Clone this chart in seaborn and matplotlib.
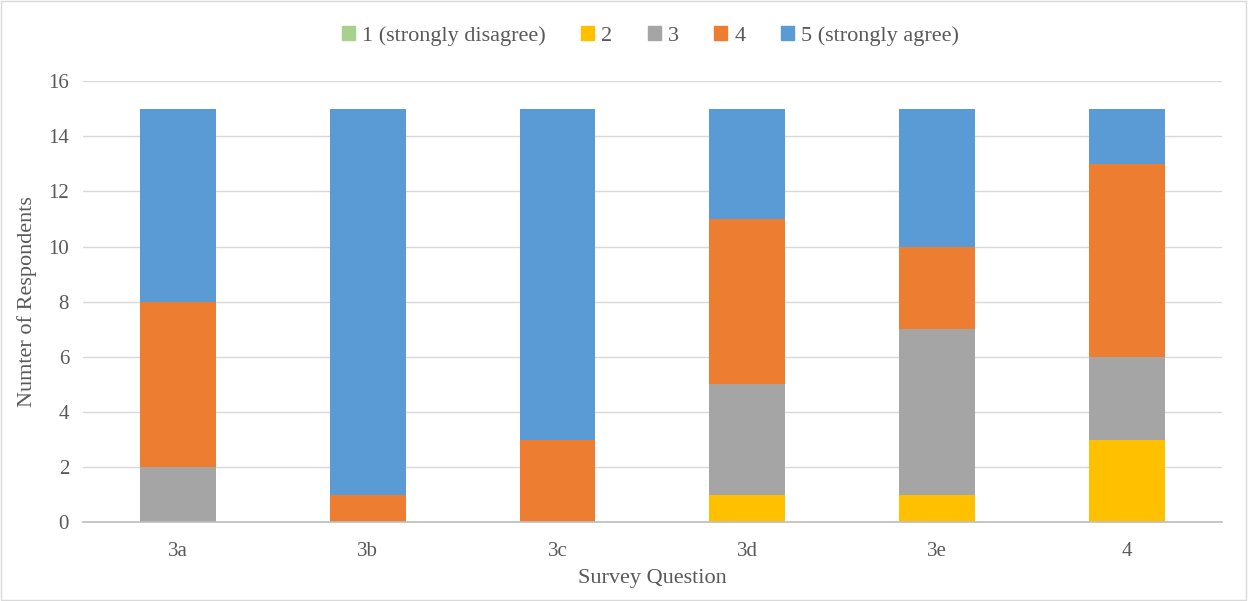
import pandas as pd
import matplotlib
matplotlib.use("Agg")
import matplotlib.pyplot as plt
import seaborn as sns
from matplotlib.patches import Patch, Rectangle

# data
questions = ["3a", "3b", "3c", "3d", "3e", "4"]
levels = ["1 (strongly disagree)", "2", "3", "4", "5 (strongly agree)"]
r1 = [0, 0, 0, 0, 0, 0]
r2 = [0, 0, 0, 1, 1, 3]
r3 = [2, 0, 0, 4, 6, 3]
r4 = [6, 1, 3, 6, 3, 7]
r5 = [7, 14, 12, 4, 5, 2]
colors = ["#A9D18E", "#FFC000", "#A5A5A5", "#ED7D31", "#5B9BD5"]

sns.set_theme(style="white")
plt.rcParams["font.family"] = ["Liberation Serif", "DejaVu Serif"]

df = pd.DataFrame({"q": questions, "1": r1, "2": r2, "3": r3, "4": r4, "5": r5})
series = ["1", "2", "3", "4", "5"]
cum = df[series].cumsum(axis=1)

fig = plt.figure(figsize=(12.48, 6.01), dpi=100)
ax = fig.add_axes([0.0665, 0.131, 0.9125, 0.734])

# draw cumulative totals from the top series down so each layer shows
for s, c in zip(reversed(series), reversed(colors)):
    sns.barplot(x=df["q"], y=cum[s], color=c, width=0.4, ax=ax,
                saturation=1, linewidth=0, order=questions)

ax.set_ylim(0, 16)
ax.set_yticks(range(0, 17, 2))
ax.yaxis.grid(True, color="#D9D9D9", linewidth=1)
ax.set_axisbelow(True)
for sp in ["top", "right", "left"]:
    ax.spines[sp].set_visible(False)
ax.spines["bottom"].set_color("#BFBFBF")
ax.tick_params(axis="y", labelsize=15, colors="#595959", length=0, pad=10)
ax.tick_params(axis="x", labelsize=15, colors="#595959", length=0, pad=14)
ax.set_xlabel("Survey Question", fontsize=16, color="#595959", labelpad=6)
ax.set_ylabel("Numter of Respondents", fontsize=16, color="#595959", labelpad=8)

handles = [Patch(color=c, label=l) for c, l in zip(colors, levels)]
fig.legend(handles=handles, loc="upper center", bbox_to_anchor=(0.521, 0.99),
           ncol=5, frameon=False, fontsize=16, handlelength=0.6, handleheight=0.6,
           handletextpad=0.3, columnspacing=1.6, labelcolor="#595959")

# thin frame around the whole chart area
fig.patches.append(Rectangle((0.001, 0.002), 0.997, 0.996, transform=fig.transFigure,
                             fill=False, edgecolor="#D9D9D9", linewidth=1))

fig.savefig("out.png", dpi=100)
